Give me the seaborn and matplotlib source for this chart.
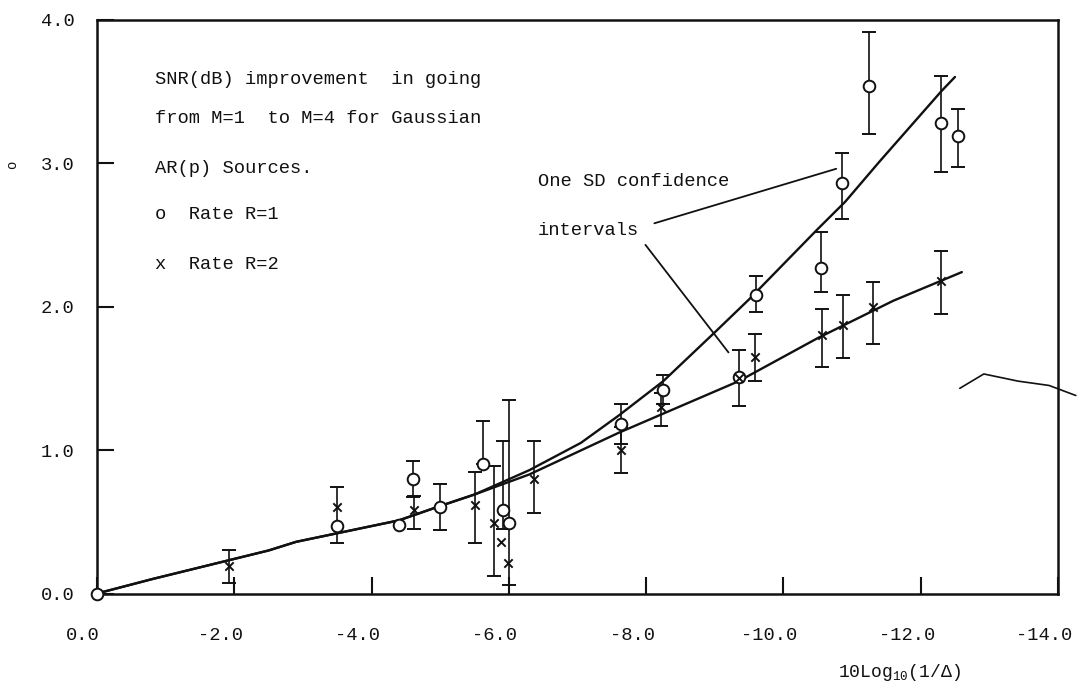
import numpy as np
import pandas as pd
import matplotlib
matplotlib.use("Agg")
import matplotlib.pyplot as plt
import matplotlib.transforms as mtransforms
import seaborn as sns

# ---- measured points: rate R=1 (circles) ----
r1_x = [0.0, -3.5, -4.4, -4.6, -5.0, -5.62, -5.92, -6.0, -7.63, -8.24,
        -9.35, -9.6, -10.55, -10.85, -11.25, -12.3, -12.54]
r1_y = [0.0, 0.47, 0.48, 0.80, 0.60, 0.90, 0.58, 0.49, 1.18, 1.42,
        1.51, 2.08, 2.27, 2.86, 3.54, 3.28, 3.19]
r1_lo = [np.nan, np.nan, np.nan, 0.675, 0.44, 0.90, 0.45, 0.06, 1.04, 1.32,
         1.31, 1.96, 2.10, 2.61, 3.20, 2.94, 2.97]
r1_hi = [np.nan, np.nan, np.nan, 0.925, 0.76, 1.20, 1.06, 1.35, 1.32, 1.52,
         1.70, 2.21, 2.52, 3.07, 3.91, 3.61, 3.38]

# ---- measured points: rate R=2 (crosses) ----
r2_x = [-1.93, -3.5, -4.62, -5.5, -5.79, -5.88, -5.99, -6.36, -7.63, -8.22,
        -9.35, -9.59, -10.56, -10.87, -11.30, -12.30]
r2_y = [0.19, 0.60, 0.58, 0.62, 0.49, 0.36, 0.21, 0.80, 1.00, 1.30,
        1.50, 1.65, 1.80, 1.87, 2.00, 2.18]
r2_lo = [0.07, 0.355, 0.45, 0.355, 0.12, np.nan, np.nan, 0.56, 0.84, 1.17,
         np.nan, 1.48, 1.58, 1.64, 1.74, 1.95]
r2_hi = [0.30, 0.74, 0.68, 0.85, 0.89, np.nan, np.nan, 1.06, 1.16, 1.40,
         np.nan, 1.81, 1.98, 2.08, 2.17, 2.39]

# ---- hand-fitted curves ----
fit1_x = [0.0, -0.8, -2.5, -2.9, -4.4, -5.0, -5.5, -6.3, -7.05, -7.6, -8.25,
          -9.0, -9.5, -10.5, -10.9, -11.4, -12.3, -12.5]
fit1_y = [0.0, 0.10, 0.30, 0.36, 0.51, 0.61, 0.69, 0.86, 1.05, 1.24, 1.48,
          1.82, 2.05, 2.54, 2.73, 3.01, 3.50, 3.60]
fit2_x = [0.0, -0.8, -2.5, -2.9, -4.4, -5.0, -5.5, -6.3, -7.6, -9.35,
          -10.5, -11.6, -12.6]
fit2_y = [0.0, 0.10, 0.30, 0.36, 0.51, 0.61, 0.69, 0.83, 1.12, 1.48,
          1.78, 2.04, 2.24]

# ---- leader lines for the confidence-interval note ----
lead1_x = [-8.12, -10.77]
lead1_y = [2.58, 2.96]
lead2_x = [-7.99, -9.20]
lead2_y = [2.43, 1.68]

# ---- stray pen stroke at the right edge ----
pen_x = [-12.57, -12.92, -13.42, -13.87, -14.26]
pen_y = [1.43, 1.53, 1.48, 1.45, 1.38]

x_ticks = [0, -2, -4, -6, -8, -10, -12, -14]
y_ticks = [0, 1, 2, 3, 4]

note_lines = ["SNR(dB) improvement  in going",
              "from M=1  to M=4 for Gaussian",
              "AR(p) Sources.",
              "o  Rate R=1",
              "x  Rate R=2"]

sns.set_theme(style="white")
plt.rcParams["font.family"] = ["Liberation Mono", "DejaVu Sans"]
plt.rcParams["mathtext.fontset"] = "custom"
plt.rcParams["mathtext.rm"] = "Liberation Mono"

fig = plt.figure(figsize=(10.78, 6.98), dpi=100)
ax = fig.add_axes([0.090, 0.1497, 0.8914, 0.8223])

ink = "#111111"
fs = 13.5

# fitted curves
sns.lineplot(x=fit1_x, y=fit1_y, sort=False, color=ink, lw=1.7, ax=ax)
sns.lineplot(x=fit2_x, y=fit2_y, sort=False, color=ink, lw=1.7, ax=ax)

# error bars
d1 = pd.DataFrame({"x": r1_x, "y": r1_y, "lo": r1_lo, "hi": r1_hi}).dropna()
d2 = pd.DataFrame({"x": r2_x, "y": r2_y, "lo": r2_lo, "hi": r2_hi}).dropna()
for d in (d1, d2):
    ax.errorbar(d["x"], d["y"], yerr=[d["y"] - d["lo"], d["hi"] - d["y"]],
                fmt="none", ecolor=ink, elinewidth=1.2, capsize=5, capthick=1.4)

# markers
sns.scatterplot(x=r1_x, y=r1_y, marker="o", s=70, facecolor="white",
                edgecolor=ink, linewidth=1.4, ax=ax, zorder=5, clip_on=False)
sns.scatterplot(x=r2_x, y=r2_y, marker="x", s=36, color=ink,
                linewidth=1.4, ax=ax, zorder=6)

# annotation leaders
ax.plot(lead1_x, lead1_y, color=ink, lw=1.3)
ax.plot(lead2_x, lead2_y, color=ink, lw=1.3)
ax.plot(pen_x, pen_y, color=ink, lw=1.2, clip_on=False)

ax.set_xlim(0, -14)
ax.set_ylim(0, 4.0)
ax.set_xticks(x_ticks)
ax.set_yticks(y_ticks)
ax.set_xticklabels([f"{v:.1f}" for v in x_ticks])
ax.set_yticklabels([f"{v:.1f}" for v in y_ticks])
ax.tick_params(axis="x", direction="in", length=12, width=1.5, pad=24,
               labelsize=fs, colors=ink, bottom=True)
ax.tick_params(axis="y", direction="in", length=12, width=1.5, pad=16,
               labelsize=fs, colors=ink, left=True)
# x tick labels sit a little left of their ticks
shift = mtransforms.ScaledTranslation(-0.14, 0, fig.dpi_scale_trans)
for lab in ax.get_xticklabels():
    lab.set_transform(lab.get_transform() + shift)
for sp in ax.spines.values():
    sp.set_color(ink)
    sp.set_linewidth(1.8)

# text block
note_y = [3.585, 3.31, 2.96, 2.64, 2.29]
for t, yy in zip(note_lines, note_y):
    ax.text(-0.84, yy, t, fontsize=fs, ha="left", va="center", color=ink)

ax.text(-6.42, 2.87, "One SD confidence", fontsize=fs, ha="left",
        va="center", color=ink)
ax.text(-6.42, 2.53, "intervals", fontsize=fs, ha="left", va="center",
        color=ink)

fig.text(0.834, 0.037, r"10Log$_{10}$(1/Δ)", fontsize=13, ha="center",
         va="center", color=ink)
fig.text(0.011, 0.764, "o", fontsize=10, ha="center", va="center",
         color=ink, rotation=90)

fig.savefig("out.png", dpi=100)
